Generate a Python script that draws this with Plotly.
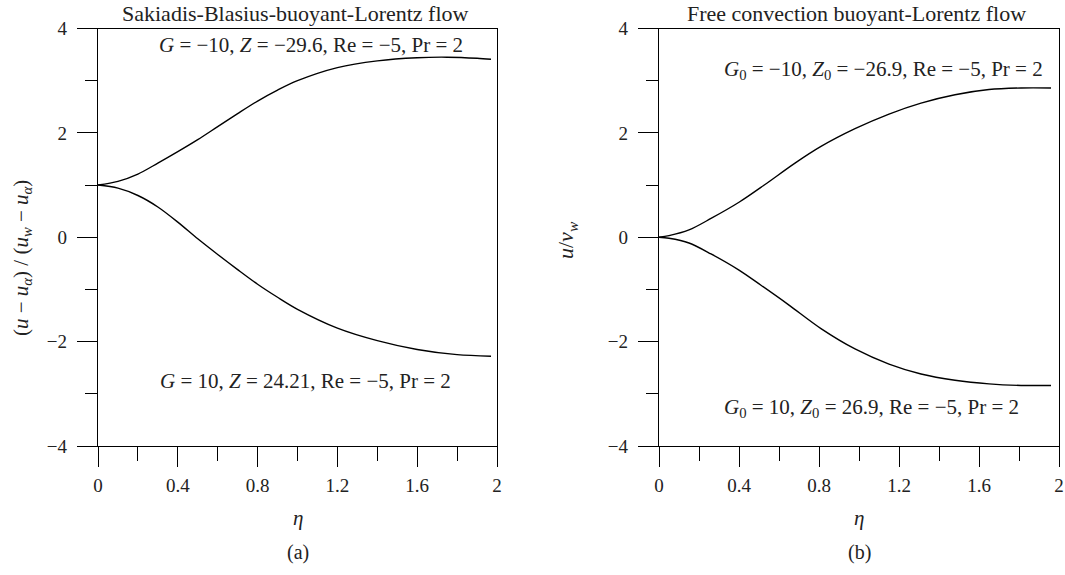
import plotly.graph_objects as go

# (a) Sakiadis-Blasius-buoyant-Lorentz flow
eta_a_up = [0, 0.1, 0.2, 0.3, 0.4, 0.5, 0.6, 0.7, 0.8, 0.9, 1.0, 1.2, 1.4, 1.6, 1.75, 1.9, 1.97]
f_a_up = [1.0, 1.07, 1.21, 1.42, 1.64, 1.87, 2.12, 2.37, 2.61, 2.82, 3.0, 3.25, 3.38, 3.44, 3.45, 3.43, 3.41]
eta_a_lo = [0, 0.1, 0.2, 0.3, 0.4, 0.5, 0.6, 0.7, 0.8, 0.9, 1.0, 1.2, 1.4, 1.6, 1.8, 1.97]
f_a_lo = [1.0, 0.94, 0.80, 0.58, 0.29, -0.03, -0.33, -0.62, -0.90, -1.15, -1.38, -1.74, -1.98, -2.15, -2.25, -2.28]

# (b) Free convection buoyant-Lorentz flow
eta_b_up = [0, 0.05, 0.15, 0.26, 0.40, 0.53, 0.68, 0.81, 0.98, 1.15, 1.31, 1.48, 1.65, 1.81, 1.96]
f_b_up = [0.0, 0.03, 0.14, 0.36, 0.67, 1.01, 1.42, 1.74, 2.08, 2.36, 2.57, 2.73, 2.83, 2.86, 2.86]
eta_b_lo = [0, 0.05, 0.15, 0.26, 0.40, 0.51, 0.65, 0.81, 0.98, 1.15, 1.31, 1.48, 1.65, 1.81, 1.96]
f_b_lo = [0.0, -0.02, -0.11, -0.32, -0.63, -0.92, -1.30, -1.75, -2.14, -2.43, -2.62, -2.74, -2.81, -2.84, -2.84]

x_ticks = [0, 0.4, 0.8, 1.2, 1.6, 2]
x_ticktext = ["0", "0.4", "0.8", "1.2", "1.6", "2"]
y_ticks = [-4, -2, 0, 2, 4]

FONT = "Liberation Serif"
W, H = 1065, 575


def px_x(p):
    return p / W


def px_y(p):
    return 1 - p / H


fig = go.Figure()
line_style = dict(color="black", width=1.4, shape="spline", smoothing=0.9)
for xs, ys, xa, ya in [(eta_a_up, f_a_up, "x", "y"), (eta_a_lo, f_a_lo, "x", "y"),
                       (eta_b_up, f_b_up, "x2", "y2"), (eta_b_lo, f_b_lo, "x2", "y2")]:
    fig.add_trace(go.Scatter(x=xs, y=ys, mode="lines", line=line_style,
                             xaxis=xa, yaxis=ya, showlegend=False))

y_dom = [px_y(446), px_y(28.5)]


def x_axis(dom, anchor):
    return dict(domain=dom, anchor=anchor, range=[0, 2], tickvals=x_ticks, ticktext=x_ticktext,
                ticks="outside", ticklen=20, tickwidth=1.3, tickcolor="black", ticklabelstandoff=2,
                minor=dict(dtick=0.2, tick0=0, ticks="outside", ticklen=14, tickwidth=1.3, tickcolor="black"),
                showline=True, linecolor="black", linewidth=1.3, mirror=True, automargin=False,
                showgrid=False, zeroline=False, tickfont=dict(family=FONT, size=19, color="#222"))


def y_axis(anchor):
    return dict(domain=y_dom, anchor=anchor, range=[-4, 4], tickvals=y_ticks,
                ticks="outside", ticklen=20, tickwidth=1.3, tickcolor="black", ticklabelstandoff=6,
                minor=dict(dtick=1, tick0=0, ticks="outside", ticklen=12, tickwidth=1.3, tickcolor="black"),
                showline=True, linecolor="black", linewidth=1.3, mirror=True, automargin=False,
                showgrid=False, zeroline=False, tickfont=dict(family=FONT, size=19, color="#222"))


fig.update_layout(
    width=W, height=H,
    margin=dict(l=0, r=0, t=0, b=0, autoexpand=False),
    paper_bgcolor="white", plot_bgcolor="white",
    font=dict(family=FONT, size=20, color="#222"),
    xaxis=x_axis([px_x(98), px_x(497)], "y"),
    yaxis=y_axis("x"),
    xaxis2=x_axis([px_x(659), px_x(1059)], "y2"),
    yaxis2=y_axis("x2"),
)


def label(text, x, y, xref="paper", yref="paper", size=21, angle=0):
    if xref == "paper":
        x = px_x(x)
    if yref == "paper":
        y = px_y(y)
    return dict(text=text, x=x, y=y, xref=xref, yref=yref, xanchor="center", yanchor="middle",
                textangle=angle, showarrow=False, font=dict(size=size))


ann = [
    # panel titles
    label("Sakiadis-Blasius-buoyant-Lorentz flow", 295, 13, size=22),
    label("Free convection buoyant-Lorentz flow", 856, 13, size=22),
    # parameter labels
    label("<i>G</i> = −10, <i>Z</i> = −29.6, Re = −5, Pr = 2", 1.07, 3.68, "x", "y"),
    label("<i>G</i> = 10, <i>Z</i> = 24.21, Re = −5, Pr = 2", 1.04, -2.75, "x", "y"),
    label("<i>G</i><sub>0</sub> = −10, <i>Z</i><sub>0</sub> = −26.9, Re = −5, Pr = 2", 1.12, 3.2, "x2", "y2"),
    label("<i>G</i><sub>0</sub> = 10, <i>Z</i><sub>0</sub> = 26.9, Re = −5, Pr = 2", 1.06, -3.28, "x2", "y2"),
    # axis titles
    label("<i>η</i>", 297.5, 518),
    label("<i>η</i>", 859, 518),
    label("(<i>u</i> − <i>u</i><sub><i>α</i></sub>) / (<i>u</i><sub><i>w</i></sub> − <i>u</i><sub><i>α</i></sub>)",
          22, 258, size=21, angle=-90),
    label("<i>u</i>/<i>v</i><sub><i>w</i></sub>", 567, 240, size=22, angle=-90),
    # captions
    label("(a)", 297.5, 552, size=20),
    label("(b)", 859, 552, size=20),
]
fig.update_layout(annotations=ann)

# drop the default body margin so the figure sits at the page's top-left corner
fig.write_html("out.html", config={"displayModeBar": False},
               post_script="document.body.style.margin = '0';")
